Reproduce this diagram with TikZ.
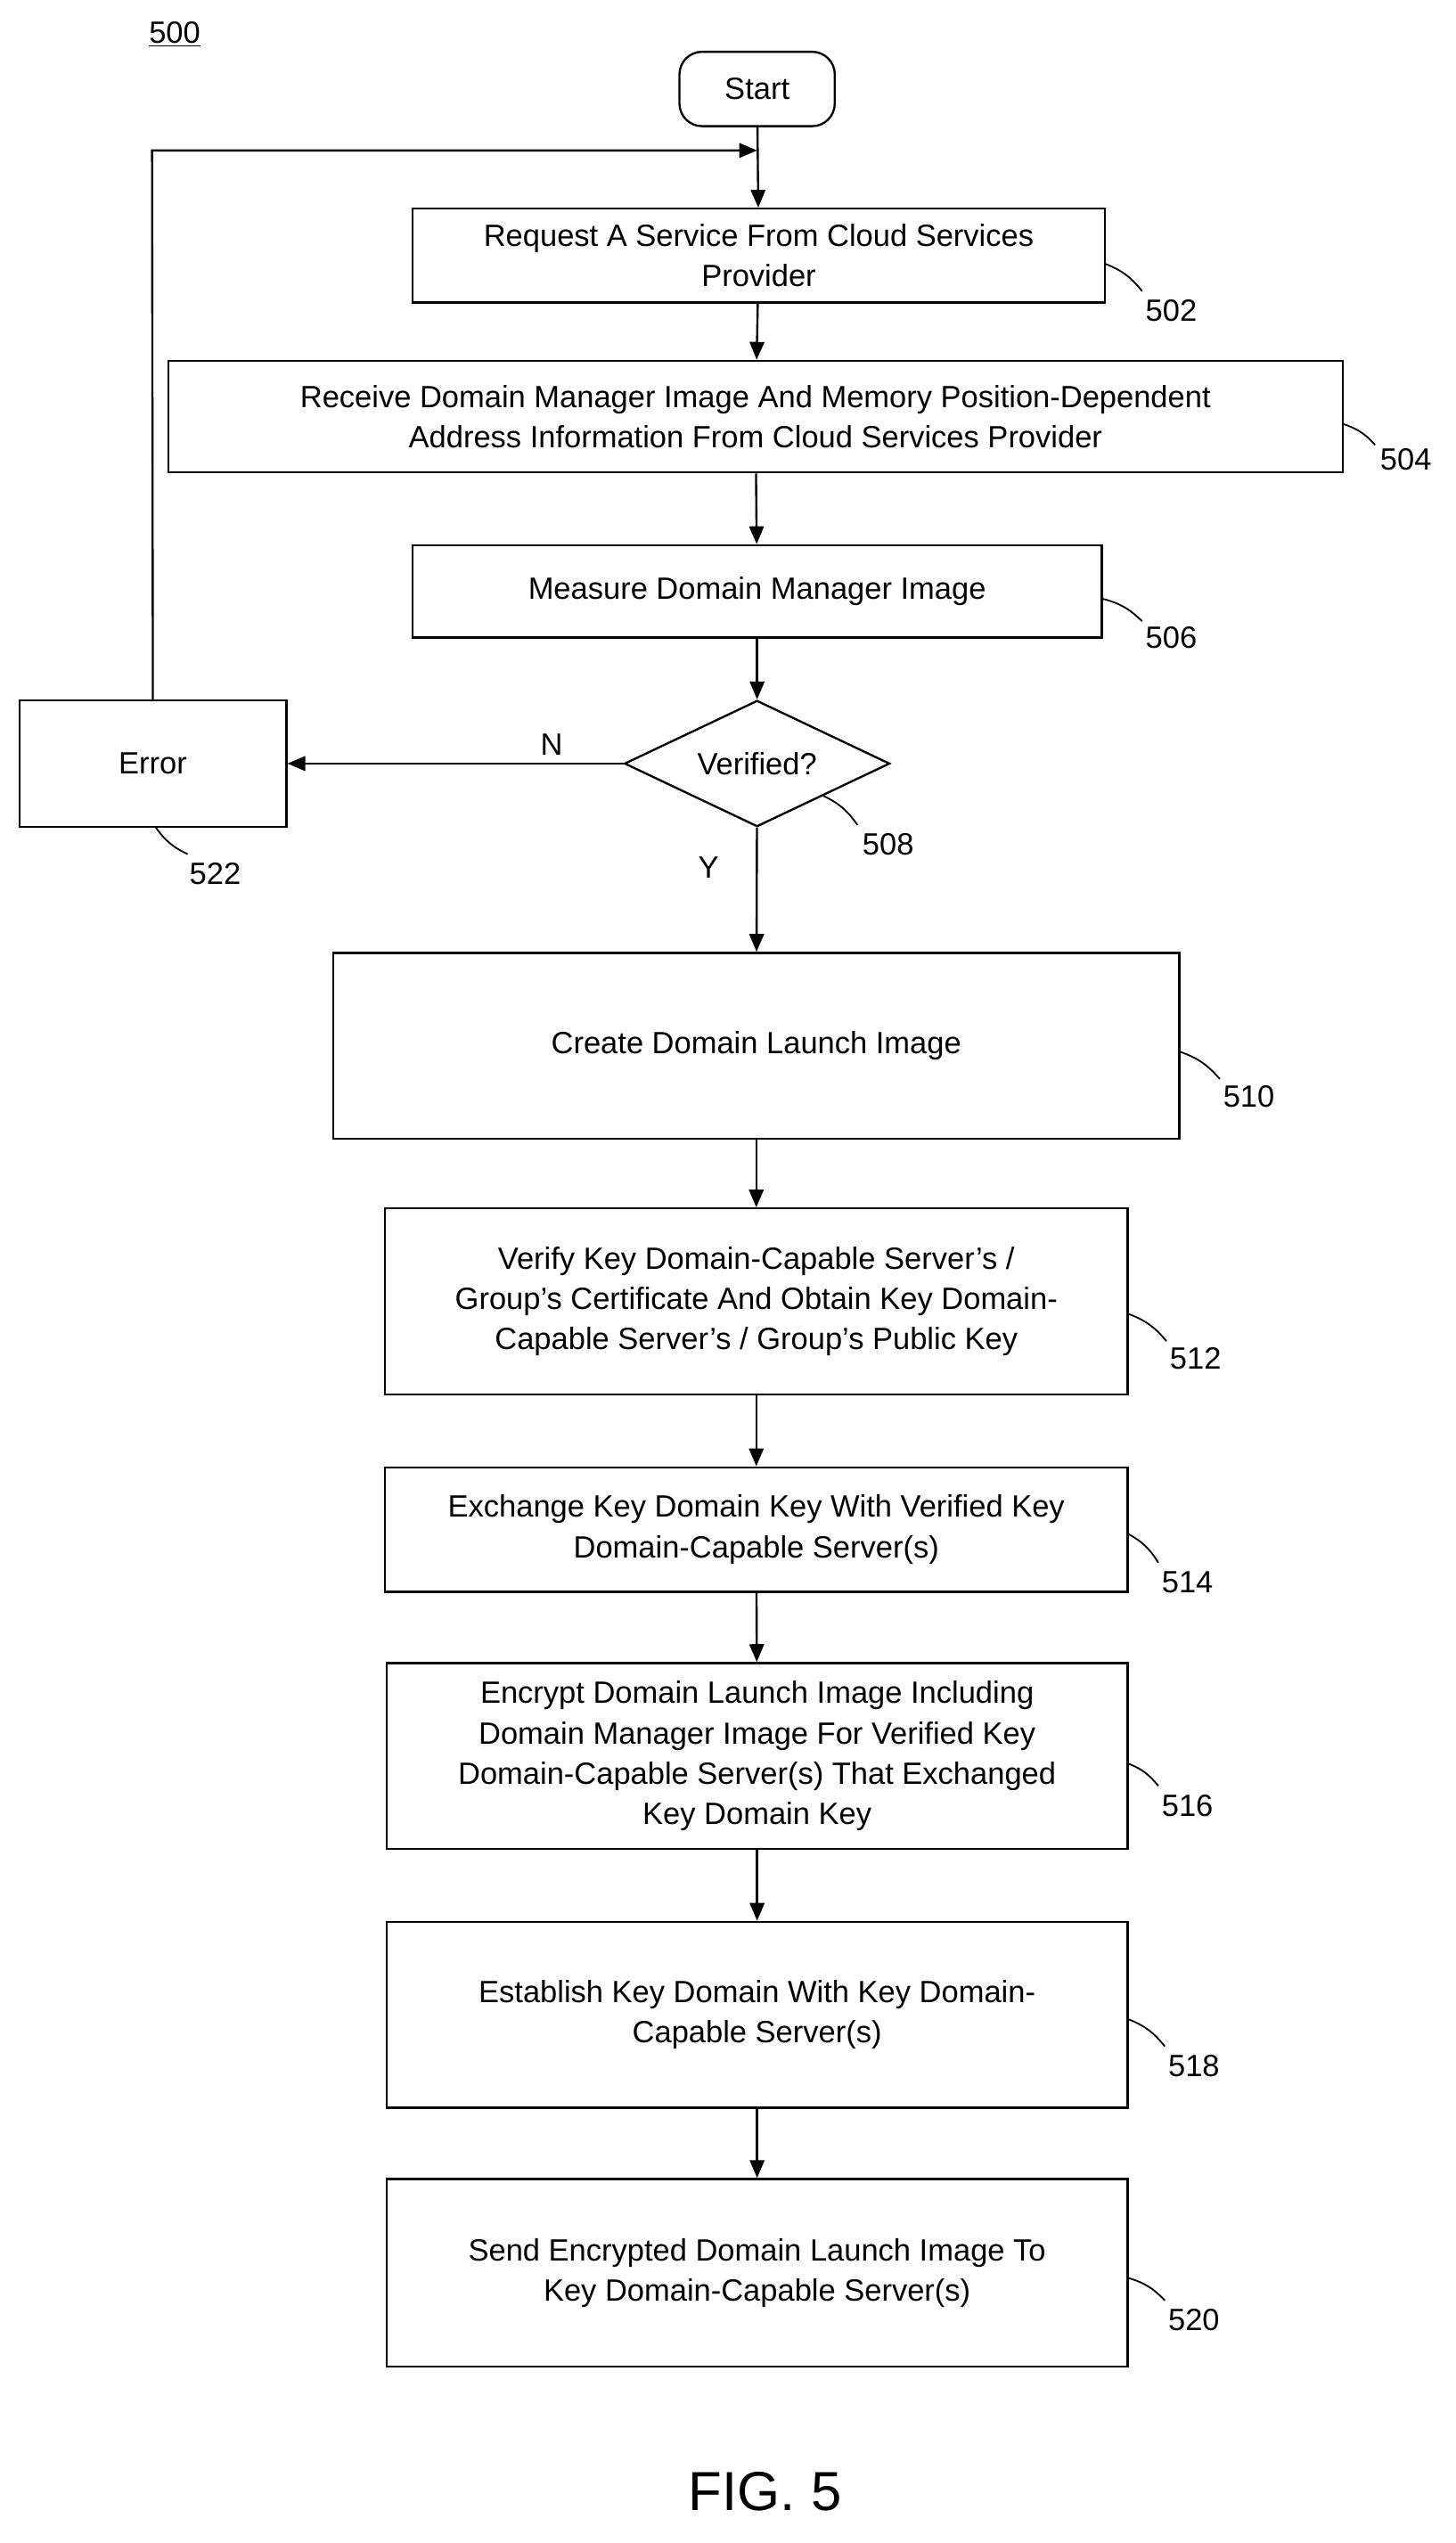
\documentclass[tikz,border=0pt]{standalone}
\usepackage{fontspec}
\setmainfont{Liberation Sans}
\usetikzlibrary{shapes.geometric,arrows.meta}
\begin{document}
\begin{tikzpicture}[x=1pt,y=-1pt,
  every node/.style={font=\fontsize{19}{25}\selectfont},
  box/.style={draw,line width=1.3pt,align=center,inner sep=0pt},
  lab/.style={anchor=center},
  arr/.style={-{Triangle[length=11pt,width=9pt]},line width=1.3pt},
  tick/.style={line width=1pt}]
\useasboundingbox (0,0) rectangle (900,1572);
\node[lab] (n500) at (108,21) {\underline{500}};
\node[box,rounded corners=14pt,minimum width=96pt,minimum height=46pt] (start) at (468,55) {Start};
\node[box,minimum width=428pt,minimum height=58pt] (b502) at (469,158) {Request A Service From Cloud Services\\Provider};
\node[box,minimum width=726pt,minimum height=69pt] (b504) at (467,257.5) {Receive Domain Manager Image And Memory Position-Dependent\\Address Information From Cloud Services Provider};
\node[box,minimum width=426pt,minimum height=57pt] (b506) at (468,365.5) {Measure Domain Manager Image};
\node[box,diamond,aspect=2.1,minimum width=164pt,minimum height=78pt] (d508) at (468,472) {Verified?};
\node[box,minimum width=165pt,minimum height=78pt] (err) at (94.5,472) {Error};
\node[box,minimum width=523pt,minimum height=115pt] (b510) at (467.5,646.5) {Create Domain Launch Image};
\node[box,minimum width=459pt,minimum height=115pt] (b512) at (467.5,804.5) {Verify Key Domain-Capable Server's /\\Group's Certificate And Obtain Key Domain-\\Capable Server's / Group's Public Key};
\node[box,minimum width=459pt,minimum height=77pt] (b514) at (467.5,945.5) {Exchange Key Domain Key With Verified Key\\Domain-Capable Server(s)};
\node[box,minimum width=458pt,minimum height=115pt] (b516) at (468,1085.5) {Encrypt Domain Launch Image Including\\Domain Manager Image For Verified Key\\Domain-Capable Server(s) That Exchanged\\Key Domain Key};
\node[box,minimum width=458pt,minimum height=115pt] (b518) at (468,1245.5) {Establish Key Domain With Key Domain-\\Capable Server(s)};
\node[box,minimum width=458pt,minimum height=116pt] (b520) at (468,1405) {Send Encrypted Domain Launch Image To\\Key Domain-Capable Server(s)};
\node[lab,font=\fontsize{34}{40}\selectfont] (fig) at (473,1540) {FIG. 5};
% labels
\node[lab] (l502) at (724,192) {502};
\node[lab] (l504) at (869,284) {504};
\node[lab] (l506) at (724,394) {506};
\node[lab] (l508) at (549,522) {508};
\node[lab] (l522) at (133,540) {522};
\node[lab] (l510) at (772,678) {510};
\node[lab] (l512) at (739,840) {512};
\node[lab] (l514) at (734,978) {514};
\node[lab] (l516) at (734,1116) {516};
\node[lab] (l518) at (738,1277) {518};
\node[lab] (l520) at (738,1434) {520};
\node[lab] (nN) at (341,460) {N};
\node[lab] (nY) at (438,536) {Y};
% ticks
\draw[tick] (683,163) to[bend left=15] (706,180);
\draw[tick] (830,262) to[bend left=15] (850,275);
\draw[tick] (681,370) to[bend left=15] (706,384);
\draw[tick] (509,492) to[bend left=15] (530,510);
\draw[tick] (96,511) to[bend right=15] (116,528);
\draw[tick] (729,650) to[bend left=15] (754,667);
\draw[tick] (697,812) to[bend left=15] (721,829);
\draw[tick] (697,948) to[bend left=15] (716,966);
\draw[tick] (697,1090) to[bend left=15] (716,1104);
\draw[tick] (697,1248) to[bend left=15] (720,1265);
\draw[tick] (697,1408) to[bend left=15] (720,1422);
% connectors
\draw[arr] (start) -- (b502);
\draw[arr] (b502) -- (b504);
\draw[arr] (b504) -- (b506);
\draw[arr] (b506) -- (d508);
\draw[arr] (d508) -- (err);
\draw[arr] (d508) -- (b510);
\draw[arr] (b510) -- (b512);
\draw[arr] (b512) -- (b514);
\draw[arr] (b514) -- (b516);
\draw[arr] (b516) -- (b518);
\draw[arr] (b518) -- (b520);
\coordinate (c1) at (94,93);
\coordinate (c2) at (468,93);
\draw[arr] (err.north) -- (c1) -- (c2);
\end{tikzpicture}
\end{document}
